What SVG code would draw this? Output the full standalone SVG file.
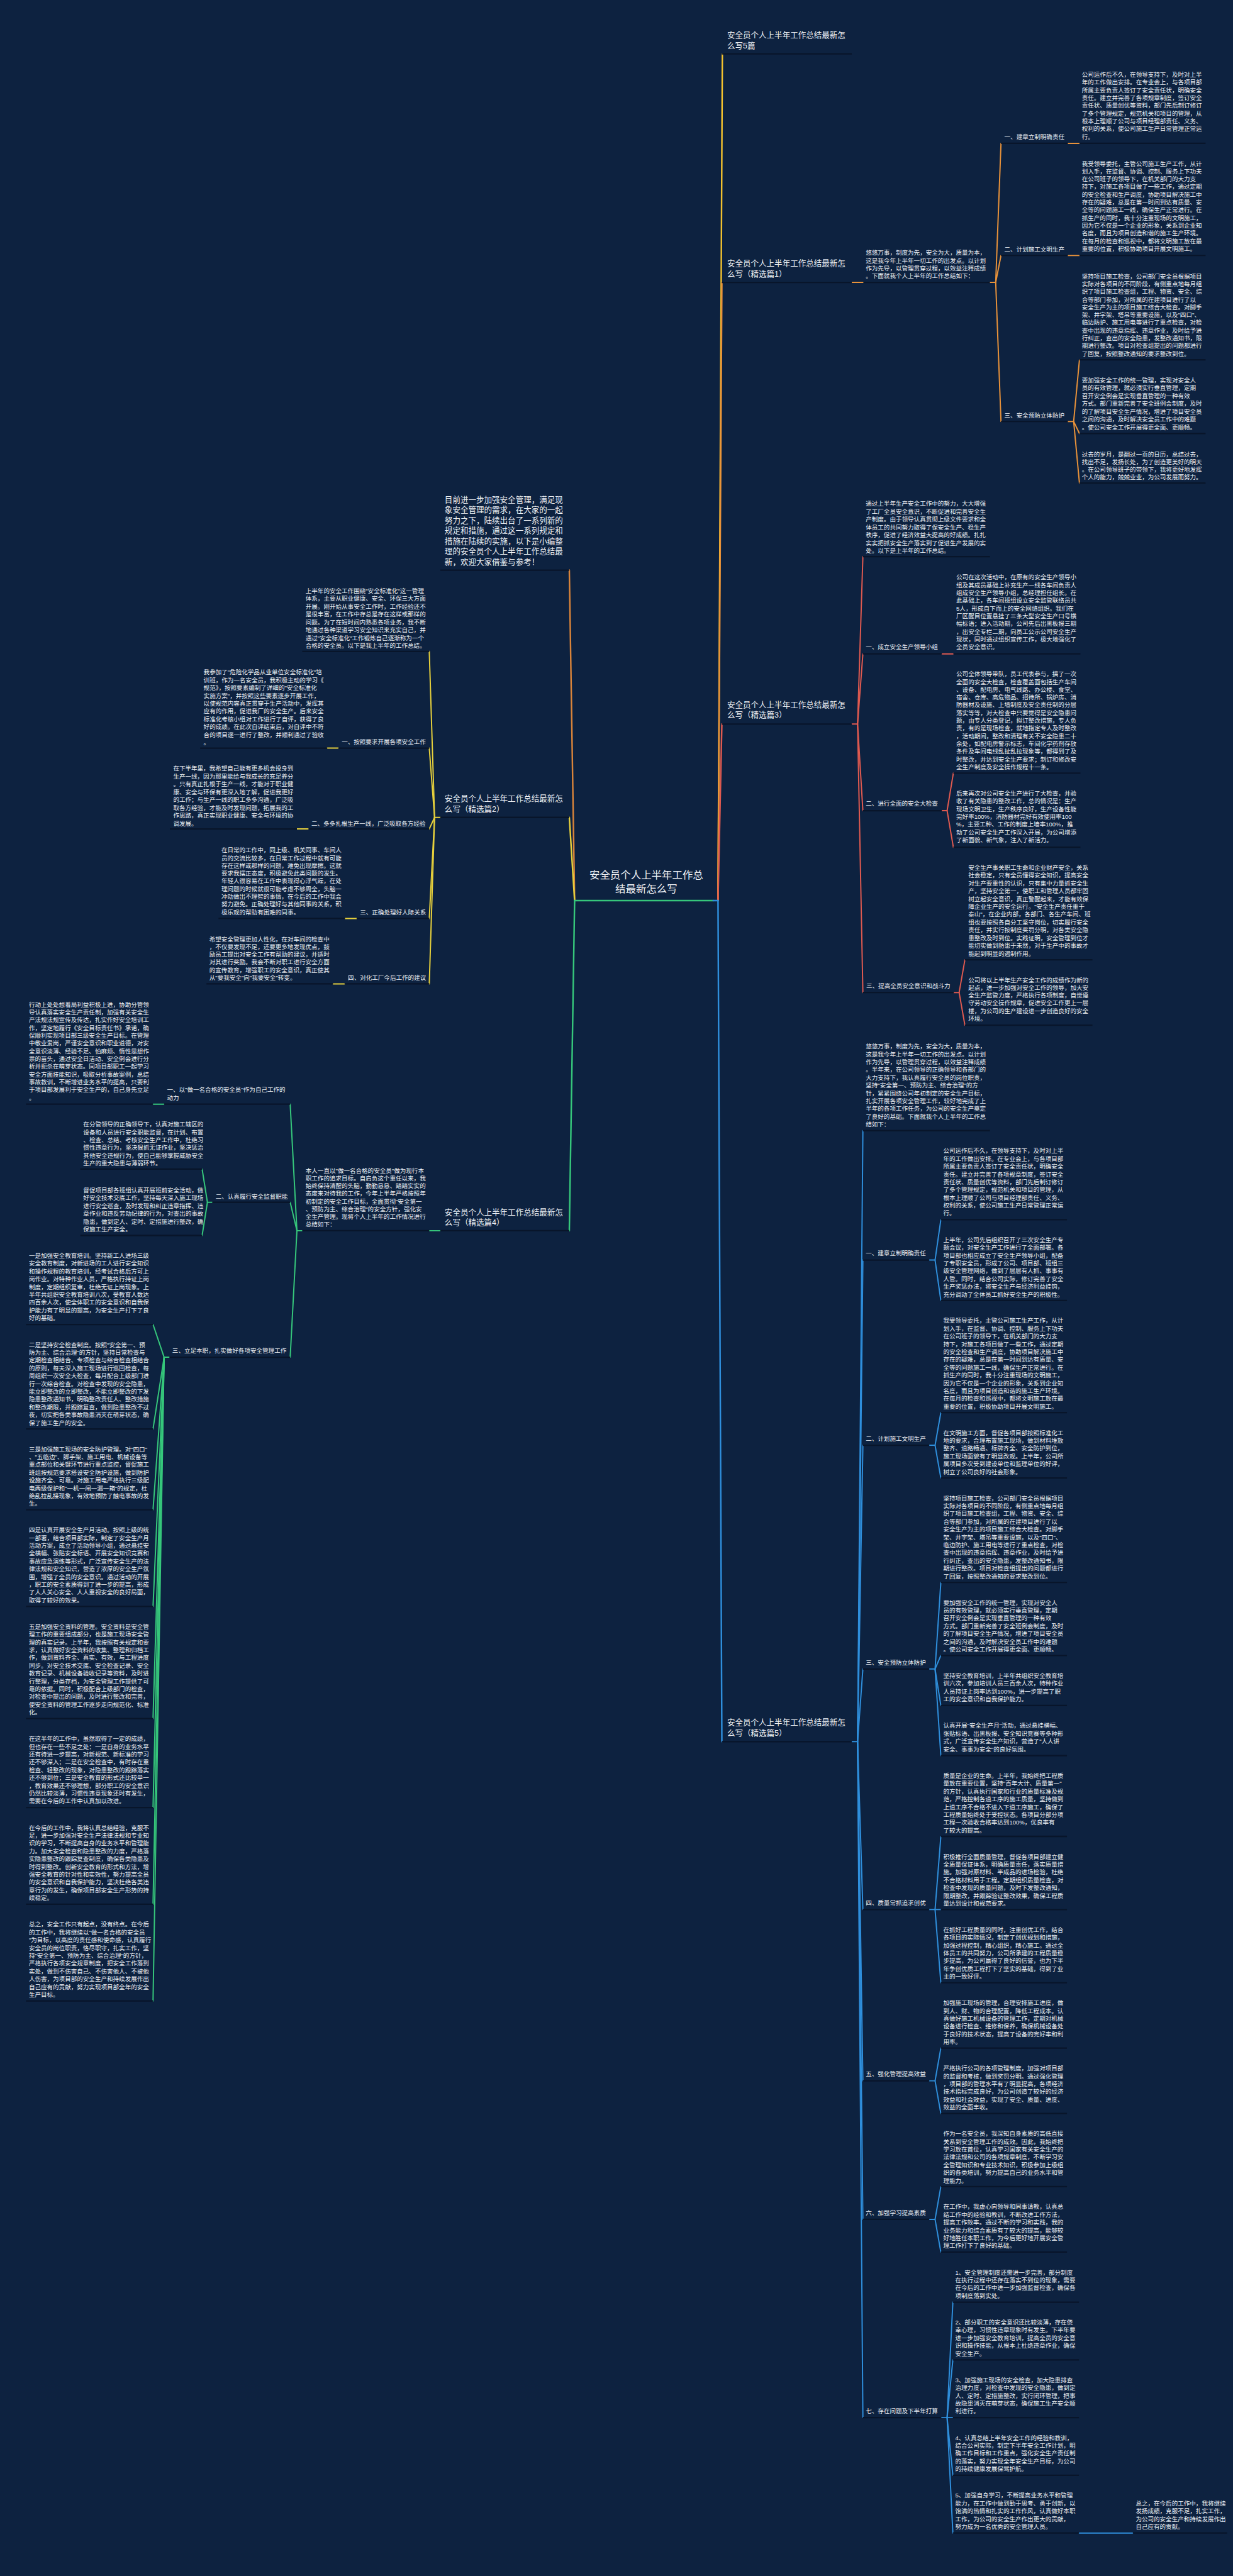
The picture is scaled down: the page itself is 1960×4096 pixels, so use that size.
<svg xmlns="http://www.w3.org/2000/svg" width="1960" height="4096" viewBox="0 0 1960 4096">
<style>
text{font-family:"Liberation Sans","Noto Sans CJK SC",sans-serif;fill:#eef1f5}
.t0{font-size:21.5px}
.t1{font-size:16.4px}
.t2{font-size:12.5px}
.ul{stroke:#08152a;stroke-width:3;fill:none}
.c{fill:none;stroke-width:2.6;stroke-linecap:round;stroke-linejoin:round}
.cm{fill:none;stroke-width:3.2;stroke-linecap:round}
.gold{stroke:#f2c12e}.org{stroke:#e8923a}.red{stroke:#e05a50}.blu{stroke:#2f8fdc}.grn{stroke:#36c77b}.yel{stroke:#e6d03c}.or2{stroke:#d9843a}
</style>
<rect width="1960" height="4096" fill="#0d2240"/>
<g transform="scale(0.765)">
<g id="connectors">
<path class="cm gold" d="M1492 1872 L1501 112"/>
<path class="cm org" d="M1492 1872 L1500 587"/>
<path class="cm red" d="M1492 1872 L1500 1505"/>
<path class="cm blu" d="M1492 1872 L1500 3620"/>
<path class="cm or2" d="M1194 1872 L1183 1185"/>
<path class="cm yel" d="M1194 1872 L1183 1699"/>
<path class="cm grn" d="M1194 1872 L1183 2558"/>
<path class="cm grn" d="M1194 1872 H1482"/>
<path class="cm blu" d="M1482 1872 H1492"/>
<path class="c org" d="M1770 587 H1794"/>
<path class="c org" d="M2057 587 H2069 L2080 298"/>
<path class="c org" d="M2069 587 L2080 531"/>
<path class="c org" d="M2069 587 L2080 876"/>
<path class="c org" d="M2219 298 H2243"/>
<path class="c org" d="M2219 531 H2243"/>
<path class="c org" d="M2219 876 H2231 L2243 748"/>
<path class="c org" d="M2231 876 L2243 901"/>
<path class="c org" d="M2231 876 L2243 1004"/>
<path class="c red" d="M1770 1505 H1782 L1793 1157"/>
<path class="c red" d="M1782 1505 L1793 1359"/>
<path class="c red" d="M1782 1505 L1793 1685"/>
<path class="c red" d="M1782 1505 L1793 2063"/>
<path class="c red" d="M1957 1359 H1981"/>
<path class="c red" d="M1957 1685 H1968 L1981 1607"/>
<path class="c red" d="M1968 1685 L1981 1761"/>
<path class="c red" d="M1982 2063 H1993 L2005 1995"/>
<path class="c red" d="M1993 2063 L2005 2131"/>
<path class="c blu" d="M1770 3620 H1782 L1793 2350"/>
<path class="c blu" d="M1782 3620 L1793 2619"/>
<path class="c blu" d="M1782 3620 L1793 3004"/>
<path class="c blu" d="M1782 3620 L1793 3469"/>
<path class="c blu" d="M1782 3620 L1793 3969"/>
<path class="c blu" d="M1782 3620 L1793 4325"/>
<path class="c blu" d="M1782 3620 L1793 4613"/>
<path class="c blu" d="M1782 3620 L1793 5025"/>
<path class="c blu" d="M1931 2619 H1943 L1955 2535"/>
<path class="c blu" d="M1943 2619 L1955 2703"/>
<path class="c blu" d="M1931 3004 H1943 L1955 2936"/>
<path class="c blu" d="M1943 3004 L1955 3072"/>
<path class="c blu" d="M1931 3469 H1943 L1955 3289"/>
<path class="c blu" d="M1943 3469 L1955 3441"/>
<path class="c blu" d="M1943 3469 L1955 3545"/>
<path class="c blu" d="M1943 3469 L1955 3649"/>
<path class="c blu" d="M1931 3969 H1943 L1955 3817"/>
<path class="c blu" d="M1943 3969 L1955 3969"/>
<path class="c blu" d="M1943 3969 L1955 4121"/>
<path class="c blu" d="M1931 4325 H1943 L1955 4257"/>
<path class="c blu" d="M1943 4325 L1955 4393"/>
<path class="c blu" d="M1931 4613 H1943 L1955 4545"/>
<path class="c blu" d="M1943 4613 L1955 4681"/>
<path class="c blu" d="M1956 5025 H1968 L1980 4785"/>
<path class="c blu" d="M1968 5025 L1980 4905"/>
<path class="c blu" d="M1968 5025 L1980 5025"/>
<path class="c blu" d="M1968 5025 L1980 5145"/>
<path class="c blu" d="M1968 5025 L1980 5265"/>
<path class="c blu" d="M2242 5265 H2354"/>
<path class="c yel" d="M915 1699 H903 L892 1354"/>
<path class="c yel" d="M903 1699 L892 1555"/>
<path class="c yel" d="M903 1699 L892 1723"/>
<path class="c yel" d="M903 1699 L892 1909"/>
<path class="c yel" d="M903 1699 L892 2045"/>
<path class="c yel" d="M703 1555 H680"/>
<path class="c yel" d="M641 1723 H617"/>
<path class="c yel" d="M741 1909 H717"/>
<path class="c yel" d="M716 2045 H692"/>
<path class="c grn" d="M915 2558 H892"/>
<path class="c grn" d="M628 2558 H617 L603 2295"/>
<path class="c grn" d="M617 2558 L603 2499"/>
<path class="c grn" d="M617 2558 L603 2821"/>
<path class="c grn" d="M341 2295 H318"/>
<path class="c grn" d="M441 2499 H431 L420 2430"/>
<path class="c grn" d="M431 2499 L420 2568"/>
<path class="c grn" d="M352 2821 H341 L318 2753"/>
<path class="c grn" d="M341 2821 L318 2970"/>
<path class="c grn" d="M341 2821 L318 3138"/>
<path class="c grn" d="M341 2821 L318 3339"/>
<path class="c grn" d="M341 2821 L318 3572"/>
<path class="c grn" d="M341 2821 L318 3757"/>
<path class="c grn" d="M341 2821 L318 3958"/>
<path class="c grn" d="M341 2821 L318 4159"/>
</g>
<g id="n-center">
<text class="t0" text-anchor="middle"><tspan x="1343" y="1826">安全员个人上半年工作总</tspan><tspan x="1343" y="1855">结最新怎么写</tspan></text>
</g>
<g id="n-title">
<path class="ul" d="M1500 112 H1770"/>
<text class="t1"><tspan x="1511" y="79">安全员个人上半年工作总结最新怎</tspan><tspan x="1511" y="101">么写5篇</tspan></text>
</g>
<g id="n-p1">
<path class="ul" d="M1500 587 H1770"/>
<text class="t1"><tspan x="1511" y="553">安全员个人上半年工作总结最新怎</tspan><tspan x="1511" y="575">么写（精选篇1）</tspan></text>
</g>
<g id="n-p1-intro">
<path class="ul" d="M1794 587 H2057"/>
<text class="t2"><tspan x="1799" y="530">悠悠万事，制度为先，安全为大，质量为本，</tspan><tspan x="1799" y="546">这是我今年上半年一切工作的出发点。以计划</tspan><tspan x="1799" y="562">作为先导，以管理贯穿过程，以效益注释成绩</tspan><tspan x="1799" y="578">。下面就我个人上半年的工作总结如下：</tspan></text>
</g>
<g id="n-p1-s1">
<path class="ul" d="M2080 298 H2219"/>
<text class="t2" x="2087" y="288.5">一、建章立制明确责任</text>
</g>
<g id="n-p1-s2">
<path class="ul" d="M2080 531 H2219"/>
<text class="t2" x="2087" y="522.5">二、计划施工文明生产</text>
</g>
<g id="n-p1-s3">
<path class="ul" d="M2080 876 H2219"/>
<text class="t2" x="2087" y="867.5">三、安全预防立体防护</text>
</g>
<g id="n-p1-l1">
<path class="ul" d="M2243 298 H2505"/>
<text class="t2"><tspan x="2248" y="159.5">公司运作后不久，在领导支持下，及时对上半</tspan><tspan x="2248" y="175.6">年的工作做出安排。在专业会上，与各项目部</tspan><tspan x="2248" y="191.7">所属主要负责人签订了安全责任状，明确安全</tspan><tspan x="2248" y="207.8">责任。建立并完善了各项规章制度，签订安全</tspan><tspan x="2248" y="223.9">责任状、质量创优等资料，部门先后制订修订</tspan><tspan x="2248" y="240">了多个管理规定，规范机关和项目的管理，从</tspan><tspan x="2248" y="256.1">根本上理顺了公司与项目经理部责任、义务、</tspan><tspan x="2248" y="272.2">权利的关系，使公司施工生产日常管理正常运</tspan><tspan x="2248" y="288.3">行。</tspan></text>
</g>
<g id="n-p1-l2">
<path class="ul" d="M2243 531 H2505"/>
<text class="t2"><tspan x="2248" y="344.5">我受领导委托，主管公司施工生产工作，从计</tspan><tspan x="2248" y="360.6">划入手，在监督、协调、控制、服务上下功夫</tspan><tspan x="2248" y="376.7">在公司班子的领导下，在机关部门的大力支</tspan><tspan x="2248" y="392.8">持下，对施工各项目做了一些工作，通过定期</tspan><tspan x="2248" y="408.9">的安全检查和生产调度，协助项目解决施工中</tspan><tspan x="2248" y="425">存在的疑难，总是在第一时间到达有质量、安</tspan><tspan x="2248" y="441.1">全等的问题施工一线，确保生产正常进行。在</tspan><tspan x="2248" y="457.2">抓生产的同时，我十分注重现场的文明施工，</tspan><tspan x="2248" y="473.3">因为它不仅是一个企业的形象，关系到企业知</tspan><tspan x="2248" y="489.4">名度，而且为项目创造和谐的施工生产环境。</tspan><tspan x="2248" y="505.5">在每月的检查和巡视中，都将文明施工放在最</tspan><tspan x="2248" y="521.6">重要的位置，积极协助项目开展文明施工。</tspan></text>
</g>
<g id="n-p1-l3">
<path class="ul" d="M2243 748 H2505"/>
<text class="t2"><tspan x="2248" y="578.5">坚持项目施工检查，公司部门安全员根据项目</tspan><tspan x="2248" y="594.6">实际对各项目的不同阶段，有侧重点地每月组</tspan><tspan x="2248" y="610.7">织了项目施工检查组，工程、物资、安全、综</tspan><tspan x="2248" y="626.8">合等部门参加，对所属的在建项目进行了以</tspan><tspan x="2248" y="642.9">安全生产为主的项目施工综合大检查。对脚手</tspan><tspan x="2248" y="659">架、井字架、塔吊等重要设施，以及"四口"、</tspan><tspan x="2248" y="675.1">临边防护、施工用电等进行了重点检查，对检</tspan><tspan x="2248" y="691.2">查中出现的违章指挥、违章作业，及时给予进</tspan><tspan x="2248" y="707.3">行纠正，查出的安全隐患，发整改通知书，限</tspan><tspan x="2248" y="723.4">期进行整改。项目对检查组提出的问题都进行</tspan><tspan x="2248" y="739.5">了回复，按照整改通知的要求整改到位。</tspan></text>
</g>
<g id="n-p1-l4">
<path class="ul" d="M2243 901 H2505"/>
<text class="t2"><tspan x="2248" y="794.5">要加强安全工作的统一管理，实现对安全人</tspan><tspan x="2248" y="810.8">员的有效管理，就必须实行垂直管理，定期</tspan><tspan x="2248" y="827.1">召开安全例会是实现垂直管理的一种有效</tspan><tspan x="2248" y="843.4">方式。部门重新完善了安全班例会制度，及时</tspan><tspan x="2248" y="859.7">的了解项目安全生产情况，增进了项目安全员</tspan><tspan x="2248" y="876">之间的沟通，及时解决安全员工作中的难题</tspan><tspan x="2248" y="892.3">。使公司安全工作开展得更全面、更顺畅。</tspan></text>
</g>
<g id="n-p1-l5">
<path class="ul" d="M2243 1004 H2505"/>
<text class="t2"><tspan x="2248" y="948.5">过去的岁月，是翻过一页的日历，总结过去，</tspan><tspan x="2248" y="964.5">找出不足，发扬长处，为了创造更美好的明天</tspan><tspan x="2248" y="980.5">。在公司领导班子的带领下，我将更好地发挥</tspan><tspan x="2248" y="996.5">个人的能力，兢兢业业，为公司发展而努力。</tspan></text>
</g>
<g id="n-p3">
<path class="ul" d="M1500 1505 H1770"/>
<text class="t1"><tspan x="1511" y="1470">安全员个人上半年工作总结最新怎</tspan><tspan x="1511" y="1492">么写（精选篇3）</tspan></text>
</g>
<g id="n-p3-intro">
<path class="ul" d="M1793 1157 H2057"/>
<text class="t2"><tspan x="1799" y="1051.5">通过上半年生产安全工作中的努力，大大增强</tspan><tspan x="1799" y="1067.8">了工厂全员安全意识，不断促进和完善安全生</tspan><tspan x="1799" y="1084.1">产制度。由于领导认真贯彻上级文件要求和全</tspan><tspan x="1799" y="1100.4">体员工的共同努力取得了保安全生产、稳生产</tspan><tspan x="1799" y="1116.7">秩序，促进了经济效益大提高的好成绩。扎扎</tspan><tspan x="1799" y="1133">实实把抓安全生产落实到了促进生产发展的实</tspan><tspan x="1799" y="1149.3">处。以下是上半年的工作总结。</tspan></text>
</g>
<g id="n-p3-s1">
<path class="ul" d="M1793 1359 H1957"/>
<text class="t2" x="1799" y="1349.5">一、成立安全生产领导小组</text>
</g>
<g id="n-p3-l1">
<path class="ul" d="M1981 1359 H2245"/>
<text class="t2"><tspan x="1987" y="1204.5">公司在这次活动中，在原有的安全生产领导小</tspan><tspan x="1987" y="1220.6">组及其成员基础上补充生产一线各车间负责人</tspan><tspan x="1987" y="1236.7">组成安全生产领导小组，总经理担任组长。在</tspan><tspan x="1987" y="1252.8">此基础上，各车间班组设立安全监管联络员共</tspan><tspan x="1987" y="1268.9">5人，形成自下而上的安全网络组织。我们在</tspan><tspan x="1987" y="1285">厂区醒目位置悬挂了三条大型安全生产口号横</tspan><tspan x="1987" y="1301.1">幅标语；进入活动期，公司先后出黑板报三期</tspan><tspan x="1987" y="1317.2">，出安全专栏二期，向员工公示公司安全生产</tspan><tspan x="1987" y="1333.3">现状，同时通过组织宣传工作，极大地强化了</tspan><tspan x="1987" y="1349.4">全员安全意识。</tspan></text>
</g>
<g id="n-p3-s2">
<path class="ul" d="M1793 1685 H1957"/>
<text class="t2" x="1799" y="1674.5">二、进行全面的安全大检查</text>
</g>
<g id="n-p3-l2">
<path class="ul" d="M1981 1607 H2245"/>
<text class="t2"><tspan x="1987" y="1405.5">公司全体领导带队，员工代表参与，搞了一次</tspan><tspan x="1987" y="1421.6">全面的安全大检查，检查覆盖面包括生产车间</tspan><tspan x="1987" y="1437.7">、设备、配电房、电气线路、办公楼、食堂、</tspan><tspan x="1987" y="1453.8">宿舍、仓库、高危物品、招待所、锅炉房、消</tspan><tspan x="1987" y="1469.9">防器材及设施、上墙制度及安全责任制的分层</tspan><tspan x="1987" y="1486">落实等等，对大检查中只要觉得是安全隐患问</tspan><tspan x="1987" y="1502.1">题，由专人分类登记，拟订整改措施，专人负</tspan><tspan x="1987" y="1518.2">责，有的是现场检查，就地指定专人及时整改</tspan><tspan x="1987" y="1534.3">，活动期间，整改和清理有关不安全隐患二十</tspan><tspan x="1987" y="1550.4">余处，如配电房警示标志，车间化学药剂存放</tspan><tspan x="1987" y="1566.5">条件及车间电线乱扯乱拉现象等，都得到了及</tspan><tspan x="1987" y="1582.6">时整改，并达到安全生产要求；制订和修改安</tspan><tspan x="1987" y="1598.7">全生产制度及安全操作规程十一条。</tspan></text>
</g>
<g id="n-p3-l3">
<path class="ul" d="M1981 1761 H2245"/>
<text class="t2"><tspan x="1987" y="1653.5">后来再次对公司安全生产进行了大检查，并验</tspan><tspan x="1987" y="1669.6">收了有关隐患的整改工作，总的情况是：生产</tspan><tspan x="1987" y="1685.7">现场文明卫生，生产秩序良好，生产设备性能</tspan><tspan x="1987" y="1701.8">完好率100%，消防器材完好有效使用率100</tspan><tspan x="1987" y="1717.9">%，主要工种、工作的制度上墙率100%，推</tspan><tspan x="1987" y="1734">动了公司安全生产工作深入开展，为公司增添</tspan><tspan x="1987" y="1750.1">了新面貌、新气象，注入了新活力。</tspan></text>
</g>
<g id="n-p3-s3">
<path class="ul" d="M1793 2063 H1982"/>
<text class="t2" x="1800" y="2053.5">三、提高全员安全意识和战斗力</text>
</g>
<g id="n-p3-l4">
<path class="ul" d="M2005 1995 H2270"/>
<text class="t2"><tspan x="2012" y="1807.5">安全生产事关职工生命和企业财产安全，关系</tspan><tspan x="2012" y="1823.8">社会稳定，只有全员懂得安全知识，提高安全</tspan><tspan x="2012" y="1840">对生产要重性的认识，只有集中力量抓安全生</tspan><tspan x="2012" y="1856.3">产，坚持安全第一，使职工和管理人员都牢固</tspan><tspan x="2012" y="1872.6">树立起安全意识，真正警醒起来，才能有效保</tspan><tspan x="2012" y="1888.9">障企业生产的安全运行。"安全生产责任重于</tspan><tspan x="2012" y="1905.1">泰山"，在企业内部，各部门、各生产车间、班</tspan><tspan x="2012" y="1921.4">组也要按照各自分工坚守岗位，切实履行安全</tspan><tspan x="2012" y="1937.7">责任，并实行按制度奖罚分明，对各类安全隐</tspan><tspan x="2012" y="1953.9">患整改及时到位。实践证明，安全管理到位才</tspan><tspan x="2012" y="1970.2">能切实做到防患于未然，对于生产中的事故才</tspan><tspan x="2012" y="1986.5">能起到明显的遏制作用。</tspan></text>
</g>
<g id="n-p3-l5">
<path class="ul" d="M2005 2131 H2270"/>
<text class="t2"><tspan x="2012" y="2041.5">公司将以上半年生产安全工作的成绩作为新的</tspan><tspan x="2012" y="2057.5">起点，进一步加强对安全工作的领导，加大安</tspan><tspan x="2012" y="2073.5">全生产监管力度，严格执行各项制度，自觉遵</tspan><tspan x="2012" y="2089.5">守劳动安全操作规章，促进安全工作更上一层</tspan><tspan x="2012" y="2105.5">楼，为公司的生产建设进一步创造良好的安全</tspan><tspan x="2012" y="2121.5">环境。</tspan></text>
</g>
<g id="n-p5">
<path class="ul" d="M1500 3620 H1770"/>
<text class="t1"><tspan x="1511" y="3586">安全员个人上半年工作总结最新怎</tspan><tspan x="1511" y="3608">么写（精选篇5）</tspan></text>
</g>
<g id="n-p5-intro">
<path class="ul" d="M1793 2350 H2057"/>
<text class="t2"><tspan x="1799" y="2179.5">悠悠万事，制度为先，安全为大，质量为本，</tspan><tspan x="1799" y="2195.7">这是我今年上半年一切工作的出发点。以计划</tspan><tspan x="1799" y="2211.9">作为先导，以管理贯穿过程，以效益注释成绩</tspan><tspan x="1799" y="2228.1">。半年来，在公司领导的正确领导和各部门的</tspan><tspan x="1799" y="2244.3">大力支持下，我认真履行安全员的岗位职责，</tspan><tspan x="1799" y="2260.5">坚持"安全第一、预防为主、综合治理"的方</tspan><tspan x="1799" y="2276.7">针，紧紧围绕公司年初制定的安全生产目标，</tspan><tspan x="1799" y="2292.9">扎实开展各项安全管理工作，较好地完成了上</tspan><tspan x="1799" y="2309.1">半年的各项工作任务，为公司的安全生产奠定</tspan><tspan x="1799" y="2325.3">了良好的基础。下面就我个人上半年的工作总</tspan><tspan x="1799" y="2341.5">结如下：</tspan></text>
</g>
<g id="n-p5-s1">
<path class="ul" d="M1793 2619 H1931"/>
<text class="t2" x="1799" y="2609.5">一、建章立制明确责任</text>
</g>
<g id="n-p5-l1">
<path class="ul" d="M1955 2535 H2217"/>
<text class="t2"><tspan x="1960" y="2396.5">公司运作后不久，在领导支持下，及时对上半</tspan><tspan x="1960" y="2412.7">年的工作做出安排。在专业会上，与各项目部</tspan><tspan x="1960" y="2428.9">所属主要负责人签订了安全责任状，明确安全</tspan><tspan x="1960" y="2445.1">责任。建立并完善了各项规章制度，签订安全</tspan><tspan x="1960" y="2461.3">责任状、质量创优等资料，部门先后制订修订</tspan><tspan x="1960" y="2477.5">了多个管理规定，规范机关和项目的管理，从</tspan><tspan x="1960" y="2493.7">根本上理顺了公司与项目经理部责任、义务、</tspan><tspan x="1960" y="2509.9">权利的关系，使公司施工生产日常管理正常运</tspan><tspan x="1960" y="2526.1">行。</tspan></text>
</g>
<g id="n-p5-l2">
<path class="ul" d="M1955 2703 H2217"/>
<text class="t2"><tspan x="1960" y="2581.5">上半年，公司先后组织召开了三次安全生产专</tspan><tspan x="1960" y="2597.7">题会议，对安全生产工作进行了全面部署。各</tspan><tspan x="1960" y="2613.9">项目部也相应成立了安全生产领导小组，配备</tspan><tspan x="1960" y="2630.1">了专职安全员，形成了公司、项目部、班组三</tspan><tspan x="1960" y="2646.3">级安全管理网络，做到了层层有人抓、事事有</tspan><tspan x="1960" y="2662.5">人管。同时，结合公司实际，修订完善了安全</tspan><tspan x="1960" y="2678.7">生产奖惩办法，将安全生产与经济利益挂钩，</tspan><tspan x="1960" y="2694.9">充分调动了全体员工抓好安全生产的积极性。</tspan></text>
</g>
<g id="n-p5-s2">
<path class="ul" d="M1793 3004 H1931"/>
<text class="t2" x="1799" y="2994.5">二、计划施工文明生产</text>
</g>
<g id="n-p5-l3">
<path class="ul" d="M1955 2936 H2217"/>
<text class="t2"><tspan x="1960" y="2749.5">我受领导委托，主管公司施工生产工作，从计</tspan><tspan x="1960" y="2765.7">划入手，在监督、协调、控制、服务上下功夫</tspan><tspan x="1960" y="2781.9">在公司班子的领导下，在机关部门的大力支</tspan><tspan x="1960" y="2798.1">持下，对施工各项目做了一些工作，通过定期</tspan><tspan x="1960" y="2814.3">的安全检查和生产调度，协助项目解决施工中</tspan><tspan x="1960" y="2830.5">存在的疑难，总是在第一时间到达有质量、安</tspan><tspan x="1960" y="2846.7">全等的问题施工一线，确保生产正常进行。在</tspan><tspan x="1960" y="2862.9">抓生产的同时，我十分注重现场的文明施工，</tspan><tspan x="1960" y="2879.1">因为它不仅是一个企业的形象，关系到企业知</tspan><tspan x="1960" y="2895.3">名度，而且为项目创造和谐的施工生产环境。</tspan><tspan x="1960" y="2911.5">在每月的检查和巡视中，都将文明施工放在最</tspan><tspan x="1960" y="2927.7">重要的位置，积极协助项目开展文明施工。</tspan></text>
</g>
<g id="n-p5-l4">
<path class="ul" d="M1955 3072 H2217"/>
<text class="t2"><tspan x="1960" y="2982.5">在文明施工方面，督促各项目部按照标准化工</tspan><tspan x="1960" y="2998.7">地的要求，合理布置施工现场，做到材料堆放</tspan><tspan x="1960" y="3014.9">整齐、道路畅通、标牌齐全、安全防护到位，</tspan><tspan x="1960" y="3031.1">施工现场面貌有了明显改观。上半年，公司所</tspan><tspan x="1960" y="3047.3">属项目多次受到建设单位和监理单位的好评，</tspan><tspan x="1960" y="3063.5">树立了公司良好的社会形象。</tspan></text>
</g>
<g id="n-p5-s3">
<path class="ul" d="M1793 3469 H1931"/>
<text class="t2" x="1799" y="3459.5">三、安全预防立体防护</text>
</g>
<g id="n-p5-l5">
<path class="ul" d="M1955 3289 H2217"/>
<text class="t2"><tspan x="1960" y="3118.5">坚持项目施工检查，公司部门安全员根据项目</tspan><tspan x="1960" y="3134.7">实际对各项目的不同阶段，有侧重点地每月组</tspan><tspan x="1960" y="3150.9">织了项目施工检查组，工程、物资、安全、综</tspan><tspan x="1960" y="3167.1">合等部门参加，对所属的在建项目进行了以</tspan><tspan x="1960" y="3183.3">安全生产为主的项目施工综合大检查。对脚手</tspan><tspan x="1960" y="3199.5">架、井字架、塔吊等重要设施，以及"四口"、</tspan><tspan x="1960" y="3215.7">临边防护、施工用电等进行了重点检查，对检</tspan><tspan x="1960" y="3231.9">查中出现的违章指挥、违章作业，及时给予进</tspan><tspan x="1960" y="3248.1">行纠正，查出的安全隐患，发整改通知书，限</tspan><tspan x="1960" y="3264.3">期进行整改。项目对检查组提出的问题都进行</tspan><tspan x="1960" y="3280.5">了回复，按照整改通知的要求整改到位。</tspan></text>
</g>
<g id="n-p5-l6">
<path class="ul" d="M1955 3441 H2217"/>
<text class="t2"><tspan x="1960" y="3335.5">要加强安全工作的统一管理，实现对安全人</tspan><tspan x="1960" y="3351.7">员的有效管理，就必须实行垂直管理，定期</tspan><tspan x="1960" y="3367.9">召开安全例会是实现垂直管理的一种有效</tspan><tspan x="1960" y="3384.1">方式。部门重新完善了安全班例会制度，及时</tspan><tspan x="1960" y="3400.3">的了解项目安全生产情况，增进了项目安全员</tspan><tspan x="1960" y="3416.5">之间的沟通，及时解决安全员工作中的难题</tspan><tspan x="1960" y="3432.7">。使公司安全工作开展得更全面、更顺畅。</tspan></text>
</g>
<g id="n-p5-l7">
<path class="ul" d="M1955 3545 H2217"/>
<text class="t2"><tspan x="1960" y="3487.5">坚持安全教育培训，上半年共组织安全教育培</tspan><tspan x="1960" y="3503.7">训六次，参加培训人员三百余人次，特种作业</tspan><tspan x="1960" y="3519.9">人员持证上岗率达到100%，进一步提高了职</tspan><tspan x="1960" y="3536.1">工的安全意识和自我保护能力。</tspan></text>
</g>
<g id="n-p5-l8">
<path class="ul" d="M1955 3649 H2217"/>
<text class="t2"><tspan x="1960" y="3591.5">认真开展"安全生产月"活动，通过悬挂横幅、</tspan><tspan x="1960" y="3607.7">张贴标语、出黑板报、安全知识竞赛等多种形</tspan><tspan x="1960" y="3623.9">式，广泛宣传安全生产知识，营造了"人人讲</tspan><tspan x="1960" y="3640.1">安全、事事为安全"的良好氛围。</tspan></text>
</g>
<g id="n-p5-s4">
<path class="ul" d="M1793 3969 H1931"/>
<text class="t2" x="1799" y="3959.5">四、质量常抓追求创优</text>
</g>
<g id="n-p5-l9">
<path class="ul" d="M1955 3817 H2217"/>
<text class="t2"><tspan x="1960" y="3695.5">质量是企业的生命。上半年，我始终把工程质</tspan><tspan x="1960" y="3711.7">量放在重要位置，坚持"百年大计、质量第一"</tspan><tspan x="1960" y="3727.9">的方针，认真执行国家和行业的质量标准及规</tspan><tspan x="1960" y="3744.1">范，严格控制各道工序的施工质量，坚持做到</tspan><tspan x="1960" y="3760.3">上道工序不合格不进入下道工序施工，确保了</tspan><tspan x="1960" y="3776.5">工程质量始终处于受控状态。各项目分部分项</tspan><tspan x="1960" y="3792.7">工程一次验收合格率达到100%，优良率有</tspan><tspan x="1960" y="3808.9">了较大的提高。</tspan></text>
</g>
<g id="n-p5-l10">
<path class="ul" d="M1955 3969 H2217"/>
<text class="t2"><tspan x="1960" y="3863.5">积极推行全面质量管理，督促各项目部建立健</tspan><tspan x="1960" y="3879.7">全质量保证体系，明确质量责任，落实质量措</tspan><tspan x="1960" y="3895.9">施。加强对原材料、半成品的进场检验，杜绝</tspan><tspan x="1960" y="3912.1">不合格材料用于工程。定期组织质量检查，对</tspan><tspan x="1960" y="3928.3">检查中发现的质量问题，及时下发整改通知，</tspan><tspan x="1960" y="3944.5">限期整改，并跟踪验证整改效果，确保工程质</tspan><tspan x="1960" y="3960.7">量达到设计和规范要求。</tspan></text>
</g>
<g id="n-p5-l11">
<path class="ul" d="M1955 4121 H2217"/>
<text class="t2"><tspan x="1960" y="4015.5">在抓好工程质量的同时，注重创优工作，结合</tspan><tspan x="1960" y="4031.7">各项目的实际情况，制定了创优规划和措施，</tspan><tspan x="1960" y="4047.9">加强过程控制，精心组织，精心施工。通过全</tspan><tspan x="1960" y="4064.1">体员工的共同努力，公司所承建的工程质量稳</tspan><tspan x="1960" y="4080.3">步提高，为公司赢得了良好的信誉，也为下半</tspan><tspan x="1960" y="4096.5">年争创优质工程打下了坚实的基础，得到了业</tspan><tspan x="1960" y="4112.7">主的一致好评。</tspan></text>
</g>
<g id="n-p5-s5">
<path class="ul" d="M1793 4325 H1931"/>
<text class="t2" x="1799" y="4315.5">五、强化管理提高效益</text>
</g>
<g id="n-p5-l12">
<path class="ul" d="M1955 4257 H2217"/>
<text class="t2"><tspan x="1960" y="4167.5">加强施工现场的管理，合理安排施工进度，做</tspan><tspan x="1960" y="4183.7">到人、财、物的合理配置，降低工程成本。认</tspan><tspan x="1960" y="4199.9">真做好施工机械设备的管理工作，定期对机械</tspan><tspan x="1960" y="4216.1">设备进行检查、维修和保养，确保机械设备处</tspan><tspan x="1960" y="4232.3">于良好的技术状态，提高了设备的完好率和利</tspan><tspan x="1960" y="4248.5">用率。</tspan></text>
</g>
<g id="n-p5-l13">
<path class="ul" d="M1955 4393 H2217"/>
<text class="t2"><tspan x="1960" y="4303.5">严格执行公司的各项管理制度，加强对项目部</tspan><tspan x="1960" y="4319.7">的监督和考核，做到奖罚分明。通过强化管理</tspan><tspan x="1960" y="4335.9">，项目部的管理水平有了明显提高，各项经济</tspan><tspan x="1960" y="4352.1">技术指标完成良好，为公司创造了较好的经济</tspan><tspan x="1960" y="4368.3">效益和社会效益，实现了安全、质量、进度、</tspan><tspan x="1960" y="4384.5">效益的全面丰收。</tspan></text>
</g>
<g id="n-p5-s6">
<path class="ul" d="M1793 4613 H1931"/>
<text class="t2" x="1799" y="4603.5">六、加强学习提高素质</text>
</g>
<g id="n-p5-l14">
<path class="ul" d="M1955 4545 H2217"/>
<text class="t2"><tspan x="1960" y="4439.5">作为一名安全员，我深知自身素质的高低直接</tspan><tspan x="1960" y="4455.7">关系到安全管理工作的成效。因此，我始终把</tspan><tspan x="1960" y="4471.9">学习放在首位，认真学习国家有关安全生产的</tspan><tspan x="1960" y="4488.1">法律法规和公司的各项规章制度，不断学习安</tspan><tspan x="1960" y="4504.3">全管理知识和专业技术知识，积极参加上级组</tspan><tspan x="1960" y="4520.5">织的各类培训，努力提高自己的业务水平和管</tspan><tspan x="1960" y="4536.7">理能力。</tspan></text>
</g>
<g id="n-p5-l15">
<path class="ul" d="M1955 4681 H2217"/>
<text class="t2"><tspan x="1960" y="4591.5">在工作中，我虚心向领导和同事请教，认真总</tspan><tspan x="1960" y="4607.7">结工作中的经验和教训，不断改进工作方法，</tspan><tspan x="1960" y="4623.9">提高工作效率。通过不断的学习和实践，我的</tspan><tspan x="1960" y="4640.1">业务能力和综合素质有了较大的提高，能够较</tspan><tspan x="1960" y="4656.3">好地胜任本职工作，为今后更好地开展安全管</tspan><tspan x="1960" y="4672.5">理工作打下了良好的基础。</tspan></text>
</g>
<g id="n-p5-s7">
<path class="ul" d="M1793 5025 H1956"/>
<text class="t2" x="1799" y="5015.5">七、存在问题及下半年打算</text>
</g>
<g id="n-p5-l16">
<path class="ul" d="M1980 4785 H2242"/>
<text class="t2"><tspan x="1985" y="4727.5">1、安全管理制度还需进一步完善，部分制度</tspan><tspan x="1985" y="4743.7">在执行过程中还存在落实不到位的现象，需要</tspan><tspan x="1985" y="4759.9">在今后的工作中进一步加强监督检查，确保各</tspan><tspan x="1985" y="4776.1">项制度落到实处。</tspan></text>
</g>
<g id="n-p5-l17">
<path class="ul" d="M1980 4905 H2242"/>
<text class="t2"><tspan x="1985" y="4831.5">2、部分职工的安全意识还比较淡薄，存在侥</tspan><tspan x="1985" y="4847.7">幸心理，习惯性违章现象时有发生。下半年要</tspan><tspan x="1985" y="4863.9">进一步加强安全教育培训，提高全员的安全意</tspan><tspan x="1985" y="4880.1">识和操作技能，从根本上杜绝违章作业，确保</tspan><tspan x="1985" y="4896.3">安全生产。</tspan></text>
</g>
<g id="n-p5-l18">
<path class="ul" d="M1980 5025 H2242"/>
<text class="t2"><tspan x="1985" y="4951.5">3、加强施工现场的安全检查，加大隐患排查</tspan><tspan x="1985" y="4967.7">治理力度，对检查中发现的安全隐患，做到定</tspan><tspan x="1985" y="4983.9">人、定时、定措施整改，实行闭环管理，把事</tspan><tspan x="1985" y="5000.1">故隐患消灭在萌芽状态，确保施工生产安全顺</tspan><tspan x="1985" y="5016.3">利进行。</tspan></text>
</g>
<g id="n-p5-l19">
<path class="ul" d="M1980 5145 H2242"/>
<text class="t2"><tspan x="1985" y="5071.5">4、认真总结上半年安全工作的经验和教训，</tspan><tspan x="1985" y="5087.7">结合公司实际，制定下半年安全工作计划，明</tspan><tspan x="1985" y="5103.9">确工作目标和工作重点，强化安全生产责任制</tspan><tspan x="1985" y="5120.1">的落实，努力实现全年安全生产目标，为公司</tspan><tspan x="1985" y="5136.3">的持续健康发展保驾护航。</tspan></text>
</g>
<g id="n-p5-l20">
<path class="ul" d="M1980 5265 H2242"/>
<text class="t2"><tspan x="1985" y="5191.5">5、加强自身学习，不断提高业务水平和管理</tspan><tspan x="1985" y="5207.7">能力，在工作中做到勤于思考、勇于创新，以</tspan><tspan x="1985" y="5223.9">饱满的热情和扎实的工作作风，认真做好本职</tspan><tspan x="1985" y="5240.1">工作，为公司的安全生产作出更大的贡献，</tspan><tspan x="1985" y="5256.3">努力成为一名优秀的安全管理人员。</tspan></text>
</g>
<g id="n-p5-l21">
<path class="ul" d="M2354 5265 H2550"/>
<text class="t2"><tspan x="2360" y="5207.5">总之，在今后的工作中，我将继续</tspan><tspan x="2360" y="5223.7">发扬成绩，克服不足，扎实工作，</tspan><tspan x="2360" y="5239.9">为公司的安全生产和持续发展作出</tspan><tspan x="2360" y="5256.1">自己应有的贡献。</tspan></text>
</g>
<g id="n-intro">
<path class="ul" d="M915 1185 H1183"/>
<text class="t1"><tspan x="924" y="1044">目前进一步加强安全管理，满足现</tspan><tspan x="924" y="1065.6">象安全管理的需求，在大家的一起</tspan><tspan x="924" y="1087.2">努力之下，陆续出台了一系列新的</tspan><tspan x="924" y="1108.8">规定和措施，通过这一系列规定和</tspan><tspan x="924" y="1130.4">措施在陆续的实施，以下是小编整</tspan><tspan x="924" y="1152">理的安全员个人上半年工作总结最</tspan><tspan x="924" y="1173.6">新，欢迎大家借鉴与参考！</tspan></text>
</g>
<g id="n-p2">
<path class="ul" d="M915 1699 H1183"/>
<text class="t1"><tspan x="924" y="1666">安全员个人上半年工作总结最新怎</tspan><tspan x="924" y="1687">么写（精选篇2）</tspan></text>
</g>
<g id="n-p2-intro">
<path class="ul" d="M628 1354 H892"/>
<text class="t2"><tspan x="635" y="1232.5">上半年的安全工作围绕"安全标准化"这一管理</tspan><tspan x="635" y="1248.8">体系，主要从职业健康、安全、环保三大方面</tspan><tspan x="635" y="1265.1">开展。刚开始从事安全工作时，工作经验还不</tspan><tspan x="635" y="1281.4">是很丰富，在工作中存总是存在这样或那样的</tspan><tspan x="635" y="1297.7">问题。为了在短时间内熟悉各项业务，我不断</tspan><tspan x="635" y="1314">地通过各种渠道学习安全知识来充实自己，并</tspan><tspan x="635" y="1330.3">通过"安全标准化"工作锻炼自己逐渐称为一个</tspan><tspan x="635" y="1346.6">合格的安全员。以下是我上半年的工作总结。</tspan></text>
</g>
<g id="n-p2-s1">
<path class="ul" d="M703 1555 H892"/>
<text class="t2" x="710" y="1546.5">一、按照要求开展各项安全工作</text>
</g>
<g id="n-p2-l1">
<path class="ul" d="M416 1555 H680"/>
<text class="t2"><tspan x="423" y="1401.5">我参加了"危险化学品从业单位安全标准化"培</tspan><tspan x="423" y="1417.8">训班，作为一名安全员，我积极主动的学习《</tspan><tspan x="423" y="1434.1">规范》，按照要素编制了详细的"安全标准化</tspan><tspan x="423" y="1450.4">实施方案"，并按照这些要素逐步开展工作，</tspan><tspan x="423" y="1466.7">以使规范内容真正贯穿于生产活动中，发挥其</tspan><tspan x="423" y="1483">应有的作用，促进我厂的安全生产。后来安全</tspan><tspan x="423" y="1499.3">标准化考核小组对工作进行了自评，获得了良</tspan><tspan x="423" y="1515.6">好的成绩。在此次自评结束后，对自评中不符</tspan><tspan x="423" y="1531.9">合的项目逐一进行了整改，并顺利通过了验收</tspan><tspan x="423" y="1548.2">。</tspan></text>
</g>
<g id="n-p2-s2">
<path class="ul" d="M641 1723 H892"/>
<text class="t2" x="647" y="1716.5">二、多多扎根生产一线，广泛吸取各方经验</text>
</g>
<g id="n-p2-l2">
<path class="ul" d="M353 1723 H617"/>
<text class="t2"><tspan x="360" y="1601.5">在下半年里，我希望自己能有更多机会投身到</tspan><tspan x="360" y="1617.9">生产一线，因为那里能给与我成长的充足养分</tspan><tspan x="360" y="1634.3">。只有真正扎根于生产一线，才能对于职业健</tspan><tspan x="360" y="1650.7">康、安全与环保有更深入地了解，促进我更好</tspan><tspan x="360" y="1667.1">的工作；与生产一线的职工多多沟通，广泛吸</tspan><tspan x="360" y="1683.5">取各方经验，才能及时发现问题，拓展我的工</tspan><tspan x="360" y="1699.9">作思路，真正实现职业健康、安全与环境的协</tspan><tspan x="360" y="1716.3">调发展。</tspan></text>
</g>
<g id="n-p2-s3">
<path class="ul" d="M741 1909 H892"/>
<text class="t2" x="748" y="1900.5">三、正确处理好人际关系</text>
</g>
<g id="n-p2-l3">
<path class="ul" d="M454 1909 H717"/>
<text class="t2"><tspan x="460" y="1771.5">在日常的工作中，同上级、机关同事、车间人</tspan><tspan x="460" y="1787.6">员的交流比较多，在日常工作过程中就有可能</tspan><tspan x="460" y="1803.7">存在这样或那样的问题，难免出现摩擦。这就</tspan><tspan x="460" y="1819.8">要求我摆正态度，积极避免此类问题的发生。</tspan><tspan x="460" y="1835.9">年轻人很容易在工作中表现得心浮气躁，在处</tspan><tspan x="460" y="1852">理问题的时候就很可能考虑不够周全，头脑一</tspan><tspan x="460" y="1868.1">冲动做出不理智的事情，在今后的工作中我会</tspan><tspan x="460" y="1884.2">努力避免。正确处理好与其他同事的关系，积</tspan><tspan x="460" y="1900.3">极乐观的帮助有困难的同事。</tspan></text>
</g>
<g id="n-p2-s4">
<path class="ul" d="M716 2045 H892"/>
<text class="t2" x="723" y="2036.5">四、对化工厂今后工作的建议</text>
</g>
<g id="n-p2-l4">
<path class="ul" d="M429 2045 H692"/>
<text class="t2"><tspan x="435" y="1956.5">希望安全管理更加人性化，在对车间的检查中</tspan><tspan x="435" y="1972.5">，不仅要发现不足，还要更多地发现优点，鼓</tspan><tspan x="435" y="1988.5">励员工提出对安全工作有帮助的建议，并适时</tspan><tspan x="435" y="2004.5">对其进行奖励。我会不断对职工进行安全方面</tspan><tspan x="435" y="2020.5">的宣传教育，增强职工的安全意识，真正使其</tspan><tspan x="435" y="2036.5">从"要我安全"向"我要安全"转变。</tspan></text>
</g>
<g id="n-p4">
<path class="ul" d="M915 2558 H1183"/>
<text class="t1"><tspan x="924" y="2525">安全员个人上半年工作总结最新怎</tspan><tspan x="924" y="2546">么写（精选篇4）</tspan></text>
</g>
<g id="n-p4-intro">
<path class="ul" d="M628 2558 H892"/>
<text class="t2"><tspan x="635" y="2437.5">本人一直以"做一名合格的安全员"做为现行本</tspan><tspan x="635" y="2453.5">职工作的追求目标。自肩负这个重任以来，我</tspan><tspan x="635" y="2469.5">始终保持清醒的头脑，勤勤恳恳、踏踏实实的</tspan><tspan x="635" y="2485.5">态度来对待我的工作，今年上半年严格按照年</tspan><tspan x="635" y="2501.5">初制定的安全工作目标，全面贯彻"安全第一</tspan><tspan x="635" y="2517.5">、预防为主、综合治理"的安全方针，强化安</tspan><tspan x="635" y="2533.5">全生产管理。现将个人上半年的工作情况进行</tspan><tspan x="635" y="2549.5">总结如下：</tspan></text>
</g>
<g id="n-p4-s1">
<path class="ul" d="M341 2295 H603"/>
<text class="t2"><tspan x="347" y="2269.5">一、以"做一名合格的安全员"作为自己工作的</tspan><tspan x="347" y="2286.5">动力</tspan></text>
</g>
<g id="n-p4-l1">
<path class="ul" d="M54 2295 H318"/>
<text class="t2"><tspan x="60" y="2092.5">行动上处处想着局利益积极上进，协助分管领</tspan><tspan x="60" y="2108.6">导认真落实安全生产责任制，加强有关安全生</tspan><tspan x="60" y="2124.7">产法规法规宣传及传达，扎实作好安全培训工</tspan><tspan x="60" y="2140.8">作，坚定地履行《安全目标责任书》承诺，确</tspan><tspan x="60" y="2156.9">保顺利实现项目部三级安全生产目标。在管理</tspan><tspan x="60" y="2173">中敬业爱岗，严谨安全意识和职业道德，对安</tspan><tspan x="60" y="2189.1">全意识淡薄、经验不足、怕麻烦、惰性思想作</tspan><tspan x="60" y="2205.2">祟的苗头，通过安全日活动、安全例会进行分</tspan><tspan x="60" y="2221.3">析并扼杀在萌芽状态。同项目部职工一起学习</tspan><tspan x="60" y="2237.4">安全方面技能知识，吸取分析事故案例，总结</tspan><tspan x="60" y="2253.5">事故教训，不断增进业务水平的提高，只要利</tspan><tspan x="60" y="2269.6">于项目部发展利于安全生产的，自己身先立足</tspan><tspan x="60" y="2285.7">。</tspan></text>
</g>
<g id="n-p4-s2">
<path class="ul" d="M441 2499 H603"/>
<text class="t2" x="448" y="2491.5">二、认真履行安全监督职能</text>
</g>
<g id="n-p4-l2">
<path class="ul" d="M167 2430 H420"/>
<text class="t2"><tspan x="173" y="2341.5">在分管领导的正确领导下，认真对施工辖区的</tspan><tspan x="173" y="2357.7">设备和人员进行安全职能监督，在计划、布置</tspan><tspan x="173" y="2373.9">、检查、总结、考核安全生产工作中，杜绝习</tspan><tspan x="173" y="2390.1">惯性违章行为，坚决狠抓无证作业，坚决惩治</tspan><tspan x="173" y="2406.3">其他安全违规行为，使自己能够掌握威胁安全</tspan><tspan x="173" y="2422.5">生产的重大隐患与薄弱环节。</tspan></text>
</g>
<g id="n-p4-l3">
<path class="ul" d="M167 2568 H420"/>
<text class="t2"><tspan x="173" y="2478.5">督促项目部各班组认真开展班前安全活动，做</tspan><tspan x="173" y="2494.7">好安全技术交底工作，坚持每天深入施工现场</tspan><tspan x="173" y="2510.9">进行安全巡查，及时发现和纠正违章指挥、违</tspan><tspan x="173" y="2527.1">章作业和违反劳动纪律的行为，对查出的事故</tspan><tspan x="173" y="2543.3">隐患，做到定人、定时、定措施进行整改，确</tspan><tspan x="173" y="2559.5">保施工生产安全。</tspan></text>
</g>
<g id="n-p4-s3">
<path class="ul" d="M352 2821 H603"/>
<text class="t2" x="358" y="2811.5">三、立足本职，扎实做好各项安全管理工作</text>
</g>
<g id="n-p4-l4">
<path class="ul" d="M54 2753 H318"/>
<text class="t2"><tspan x="60" y="2614.5">一是加强安全教育培训。坚持新工人进场三级</tspan><tspan x="60" y="2630.7">安全教育制度，对新进场的工人进行安全知识</tspan><tspan x="60" y="2646.9">和操作规程的教育培训，经考试合格后方可上</tspan><tspan x="60" y="2663.1">岗作业。对特种作业人员，严格执行持证上岗</tspan><tspan x="60" y="2679.3">制度，定期组织复审，杜绝无证上岗现象。上</tspan><tspan x="60" y="2695.5">半年共组织安全教育培训八次，受教育人数达</tspan><tspan x="60" y="2711.7">四百余人次，使全体职工的安全意识和自我保</tspan><tspan x="60" y="2727.9">护能力有了明显的提高，为安全生产打下了良</tspan><tspan x="60" y="2744.1">好的基础。</tspan></text>
</g>
<g id="n-p4-l5">
<path class="ul" d="M54 2970 H318"/>
<text class="t2"><tspan x="60" y="2799.5">二是坚持安全检查制度。按照"安全第一、预</tspan><tspan x="60" y="2815.7">防为主、综合治理"的方针，坚持日常检查与</tspan><tspan x="60" y="2831.9">定期检查相结合、专项检查与综合检查相结合</tspan><tspan x="60" y="2848.1">的原则，每天深入施工现场进行巡回检查，每</tspan><tspan x="60" y="2864.3">周组织一次安全大检查，每月配合上级部门进</tspan><tspan x="60" y="2880.5">行一次综合检查。对检查中发现的安全隐患，</tspan><tspan x="60" y="2896.7">能立即整改的立即整改，不能立即整改的下发</tspan><tspan x="60" y="2912.9">隐患整改通知书，明确整改责任人、整改措施</tspan><tspan x="60" y="2929.1">和整改期限，并跟踪复查，做到隐患整改不过</tspan><tspan x="60" y="2945.3">夜，切实把各类事故隐患消灭在萌芽状态，确</tspan><tspan x="60" y="2961.5">保了施工生产的安全。</tspan></text>
</g>
<g id="n-p4-l6">
<path class="ul" d="M54 3138 H318"/>
<text class="t2"><tspan x="60" y="3016.5">三是加强施工现场的安全防护管理。对"四口"</tspan><tspan x="60" y="3032.7">、"五临边"、脚手架、施工用电、机械设备等</tspan><tspan x="60" y="3048.9">重点部位和关键环节进行重点监控，督促施工</tspan><tspan x="60" y="3065.1">班组按规范要求搭设安全防护设施，做到防护</tspan><tspan x="60" y="3081.3">设施齐全、可靠。对施工用电严格执行三级配</tspan><tspan x="60" y="3097.5">电两级保护和"一机一闸一漏一箱"的规定，杜</tspan><tspan x="60" y="3113.7">绝乱拉乱接现象，有效地预防了触电事故的发</tspan><tspan x="60" y="3129.9">生。</tspan></text>
</g>
<g id="n-p4-l7">
<path class="ul" d="M54 3339 H318"/>
<text class="t2"><tspan x="60" y="3184.5">四是认真开展安全生产月活动。按照上级的统</tspan><tspan x="60" y="3200.7">一部署，结合项目部实际，制定了安全生产月</tspan><tspan x="60" y="3216.9">活动方案，成立了活动领导小组，通过悬挂安</tspan><tspan x="60" y="3233.1">全横幅、张贴安全标语、开展安全知识竞赛和</tspan><tspan x="60" y="3249.3">事故应急演练等形式，广泛宣传安全生产的法</tspan><tspan x="60" y="3265.5">律法规和安全知识，营造了浓厚的安全生产氛</tspan><tspan x="60" y="3281.7">围，增强了全员的安全意识。通过活动的开展</tspan><tspan x="60" y="3297.9">，职工的安全素质得到了进一步的提高，形成</tspan><tspan x="60" y="3314.1">了人人关心安全、人人重视安全的良好局面，</tspan><tspan x="60" y="3330.3">取得了较好的效果。</tspan></text>
</g>
<g id="n-p4-l8">
<path class="ul" d="M54 3572 H318"/>
<text class="t2"><tspan x="60" y="3385.5">五是加强安全资料的管理。安全资料是安全管</tspan><tspan x="60" y="3401.7">理工作的重要组成部分，也是施工现场安全管</tspan><tspan x="60" y="3417.9">理的真实记录。上半年，我按照有关规定和要</tspan><tspan x="60" y="3434.1">求，认真做好安全资料的收集、整理和归档工</tspan><tspan x="60" y="3450.3">作，做到资料齐全、真实、有效，与工程进度</tspan><tspan x="60" y="3466.5">同步。对安全技术交底、安全检查记录、安全</tspan><tspan x="60" y="3482.7">教育记录、机械设备验收记录等资料，及时进</tspan><tspan x="60" y="3498.9">行整理，分类存档，为安全管理工作提供了可</tspan><tspan x="60" y="3515.1">靠的依据。同时，积极配合上级部门的检查，</tspan><tspan x="60" y="3531.3">对检查中提出的问题，及时进行整改和完善，</tspan><tspan x="60" y="3547.5">使安全资料的管理工作逐步走向规范化、标准</tspan><tspan x="60" y="3563.7">化。</tspan></text>
</g>
<g id="n-p4-l9">
<path class="ul" d="M54 3757 H318"/>
<text class="t2"><tspan x="60" y="3618.5">在这半年的工作中，虽然取得了一定的成绩，</tspan><tspan x="60" y="3634.7">但也存在一些不足之处：一是自身的业务水平</tspan><tspan x="60" y="3650.9">还有待进一步提高，对新规范、新标准的学习</tspan><tspan x="60" y="3667.1">还不够深入；二是在安全检查中，有时存在重</tspan><tspan x="60" y="3683.3">检查、轻整改的现象，对隐患整改的跟踪落实</tspan><tspan x="60" y="3699.5">还不够到位；三是安全教育的形式还比较单一</tspan><tspan x="60" y="3715.7">，教育效果还不够理想，部分职工的安全意识</tspan><tspan x="60" y="3731.9">仍然比较淡薄，习惯性违章现象还时有发生，</tspan><tspan x="60" y="3748.1">需要在今后的工作中认真加以改进。</tspan></text>
</g>
<g id="n-p4-l10">
<path class="ul" d="M54 3958 H318"/>
<text class="t2"><tspan x="60" y="3803.5">在今后的工作中，我将认真总结经验，克服不</tspan><tspan x="60" y="3819.7">足，进一步加强对安全生产法律法规和专业知</tspan><tspan x="60" y="3835.9">识的学习，不断提高自身的业务水平和管理能</tspan><tspan x="60" y="3852.1">力。加大安全检查和隐患整改的力度，严格落</tspan><tspan x="60" y="3868.3">实隐患整改的跟踪复查制度，确保各类隐患及</tspan><tspan x="60" y="3884.5">时得到整改。创新安全教育的形式和方法，增</tspan><tspan x="60" y="3900.7">强安全教育的针对性和实效性，努力提高全员</tspan><tspan x="60" y="3916.9">的安全意识和自我保护能力，坚决杜绝各类违</tspan><tspan x="60" y="3933.1">章行为的发生，确保项目部安全生产形势的持</tspan><tspan x="60" y="3949.3">续稳定。</tspan></text>
</g>
<g id="n-p4-l11">
<path class="ul" d="M54 4159 H318"/>
<text class="t2"><tspan x="60" y="4004.5">总之，安全工作只有起点，没有终点。在今后</tspan><tspan x="60" y="4020.7">的工作中，我将继续以"做一名合格的安全员</tspan><tspan x="60" y="4036.9">"为目标，以高度的责任感和使命感，认真履行</tspan><tspan x="60" y="4053.1">安全员的岗位职责，恪尽职守，扎实工作，坚</tspan><tspan x="60" y="4069.3">持"安全第一、预防为主、综合治理"的方针，</tspan><tspan x="60" y="4085.5">严格执行各项安全规章制度，把安全工作落到</tspan><tspan x="60" y="4101.7">实处，做到不伤害自己、不伤害他人、不被他</tspan><tspan x="60" y="4117.9">人伤害，为项目部的安全生产和持续发展作出</tspan><tspan x="60" y="4134.1">自己应有的贡献，努力实现项目部全年的安全</tspan><tspan x="60" y="4150.3">生产目标。</tspan></text>
</g>
</g>
</svg>
